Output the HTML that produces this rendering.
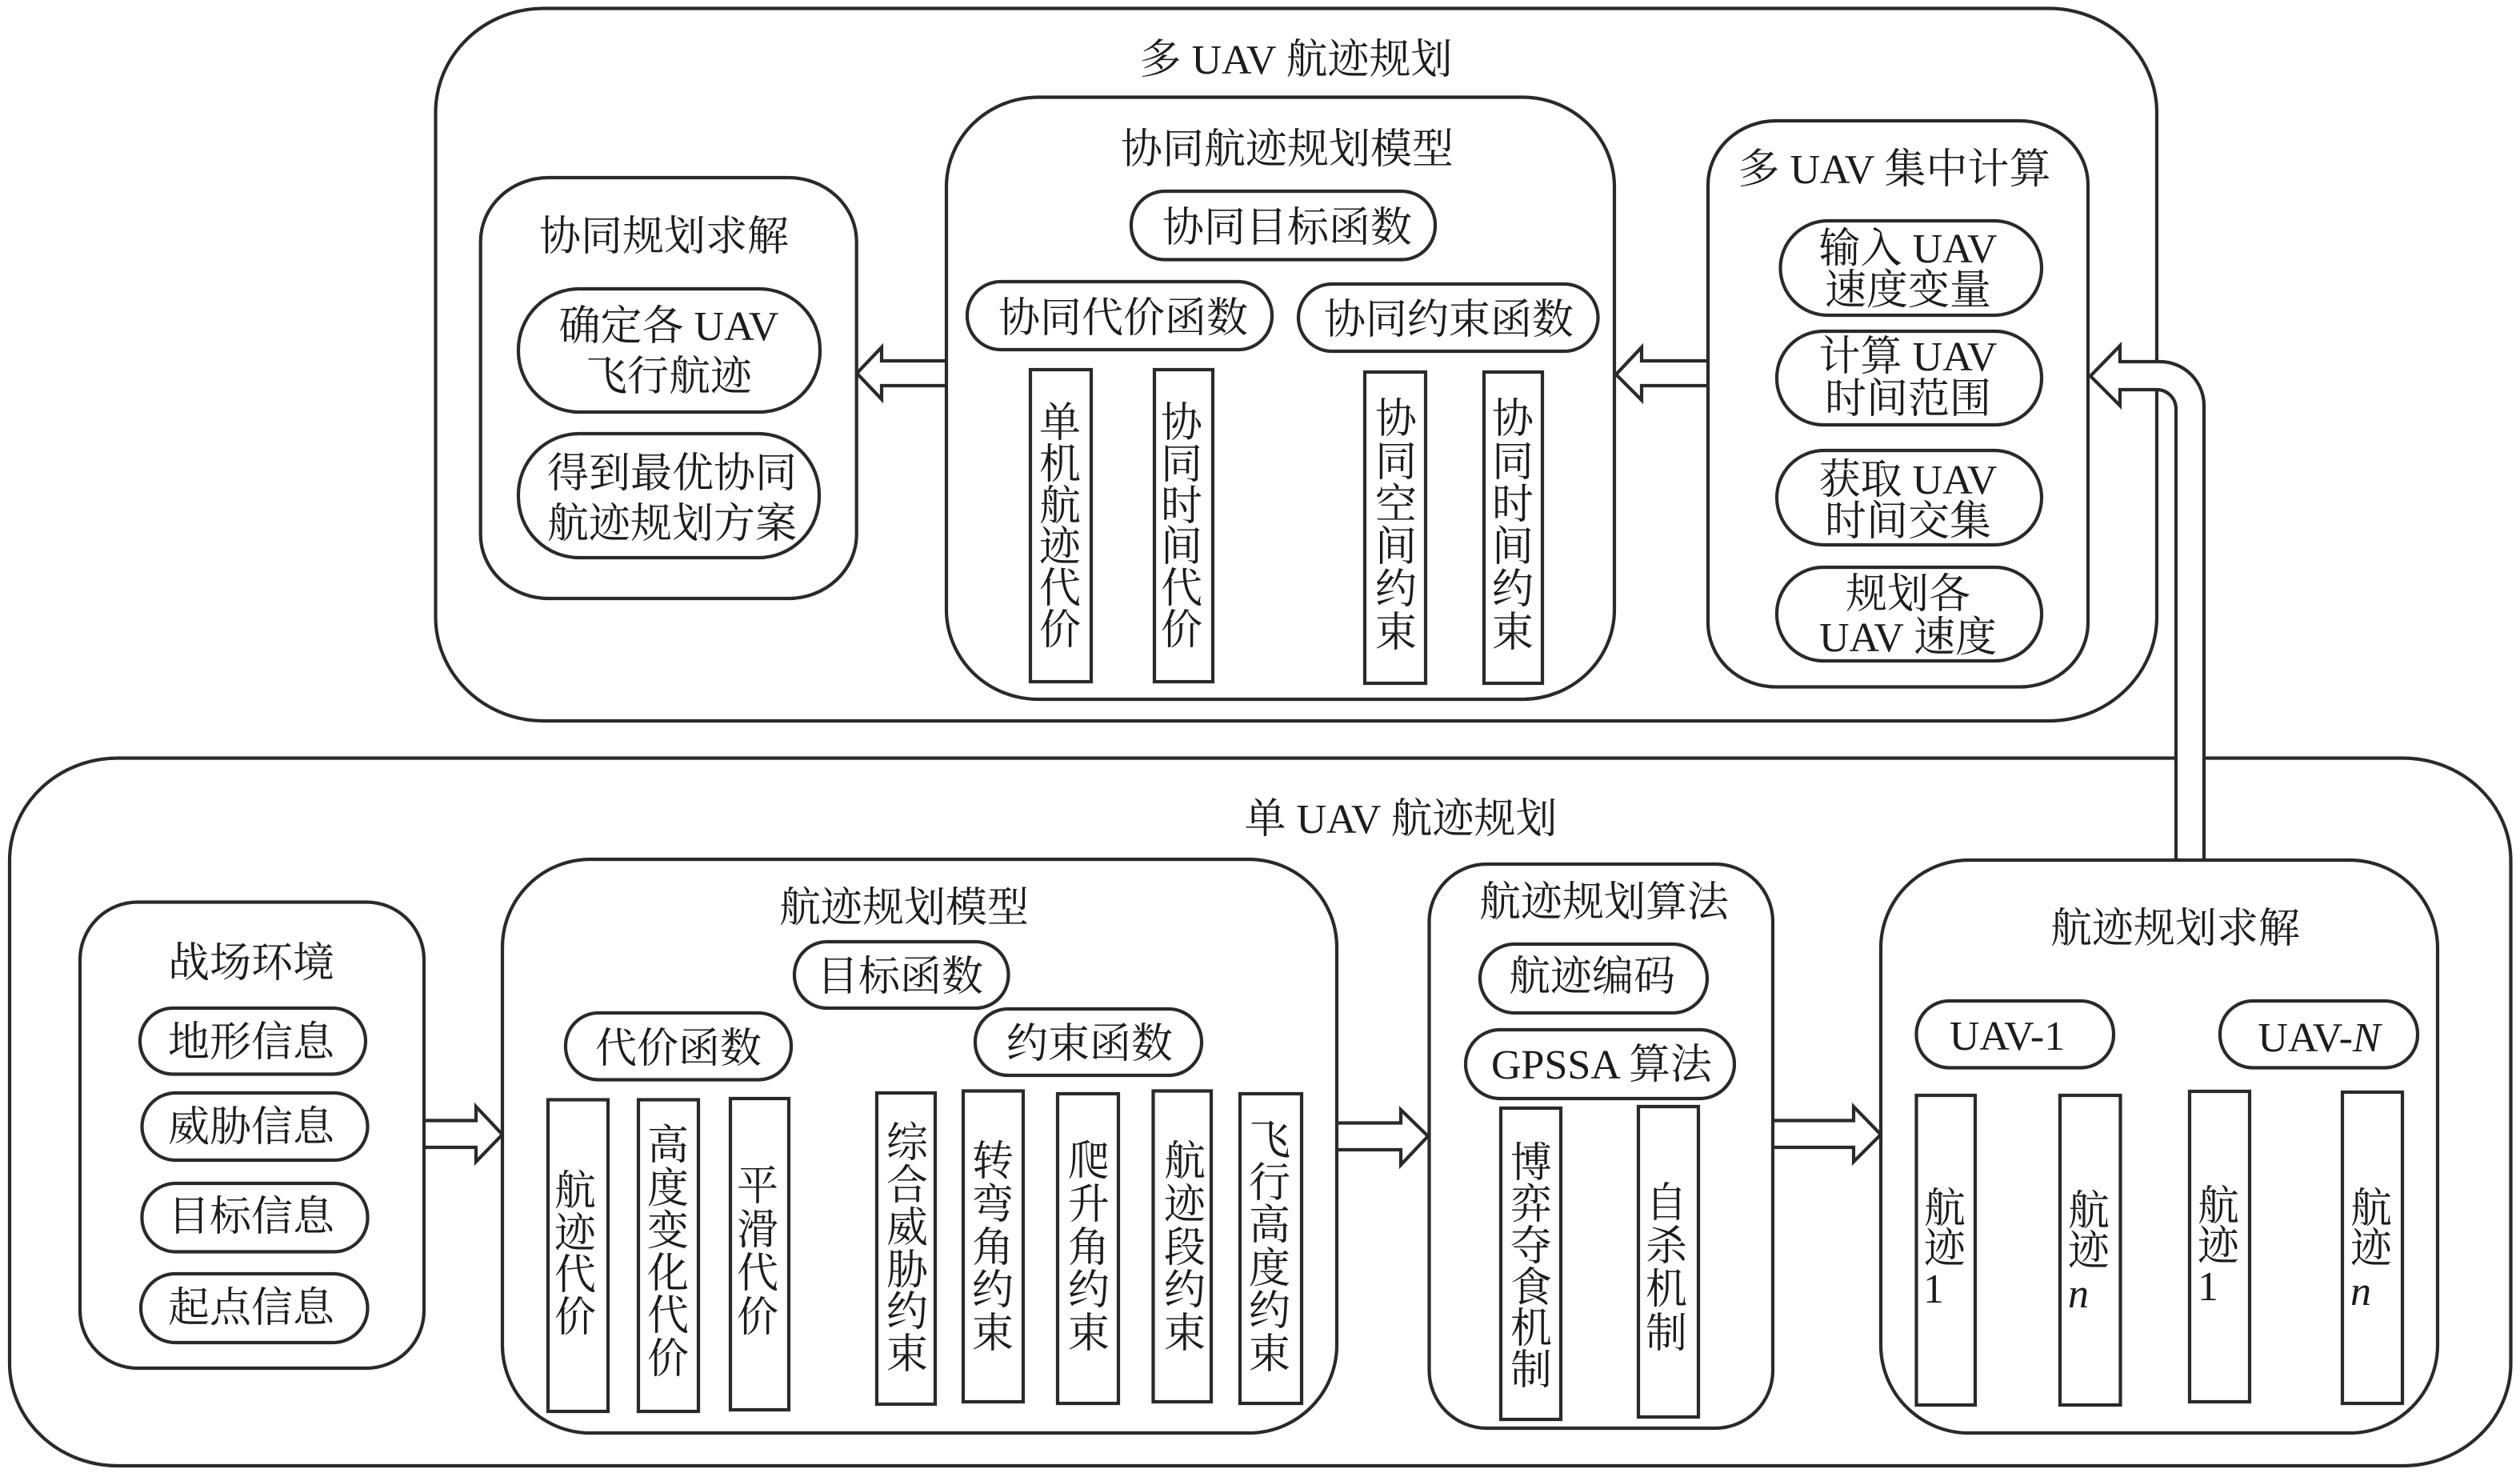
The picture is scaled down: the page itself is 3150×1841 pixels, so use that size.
<!DOCTYPE html>
<html lang="zh"><head><meta charset="utf-8"><title>UAV 航迹规划</title>
<style>
html,body{margin:0;padding:0;background:#fff}
svg{display:block}
rect,path{stroke:#2a2a2a;stroke-width:4.2;fill:#fff}
text{font-family:"Liberation Serif","Noto Serif CJK SC",serif;font-size:52px;fill:#1c1c1c;text-anchor:middle}
</style></head><body>
<svg width="3150" height="1841" viewBox="0 0 3150 1841" xmlns="http://www.w3.org/2000/svg">
<rect x="0" y="0" width="3150" height="1841" style="fill:#fff;stroke:none"/>
<!-- outer -->
<rect x="544.500" y="10.500" width="2151.500" height="890.500" rx="135" ry="130"/>
<rect x="12" y="947.500" width="3126.500" height="884.500" rx="135" ry="128"/>
<!-- arrows -->
<path d="M1183 451H1102V434L1071 466.500L1102 499V482H1183"/>
<path d="M2135 451H2052V434L2020 468L2052 500V482H2135"/>
<path d="M530 1400.500H595V1383L628 1418L595 1452V1434H530"/>
<path d="M1671 1403.500H1751V1387L1785 1420L1751 1456V1437H1671"/>
<path d="M2216 1400.500H2317V1383L2351 1418L2317 1452V1434H2216"/>
<path d="M2720 1075V511A24 24 0 0 0 2696 487H2650V507L2613 470L2650 432V452H2700A55 55 0 0 1 2755 507V1075"/>
<!-- top boxes -->
<rect x="600.700" y="222" width="470" height="526" rx="85" ry="80"/>
<rect x="1183" y="121.500" width="835" height="752.500" rx="115" ry="112"/>
<rect x="2135" y="151" width="475" height="707.500" rx="85" ry="80"/>
<!-- bottom boxes -->
<rect x="100" y="1127.500" width="430" height="582.500" rx="72" ry="72"/>
<rect x="628" y="1074" width="1043" height="717" rx="110" ry="110"/>
<rect x="1786.500" y="1080" width="429.500" height="705" rx="72" ry="72"/>
<rect x="2351" y="1075" width="696" height="716" rx="110" ry="110"/>
<!-- pills -->
<rect x="648" y="361" width="377" height="154" rx="76" ry="76"/>
<rect x="648" y="542" width="376" height="155" rx="76" ry="76"/>
<rect x="1414" y="239" width="380" height="85.500" rx="42" ry="42"/>
<rect x="1209" y="352" width="381" height="85" rx="42" ry="42"/>
<rect x="1623" y="355" width="374.500" height="84" rx="42" ry="42"/>
<rect x="2225.500" y="276" width="326.500" height="118" rx="59" ry="59"/>
<rect x="2221" y="414" width="331" height="117" rx="58" ry="58"/>
<rect x="2221" y="563" width="331" height="118" rx="59" ry="59"/>
<rect x="2221" y="709" width="331" height="117" rx="58" ry="58"/>
<rect x="175" y="1260" width="282" height="82.500" rx="41" ry="41"/>
<rect x="177.500" y="1366" width="282" height="84" rx="42" ry="42"/>
<rect x="177.500" y="1479" width="282" height="85.500" rx="42" ry="42"/>
<rect x="176" y="1592" width="283.500" height="86" rx="43" ry="43"/>
<rect x="993" y="1177" width="267.500" height="83" rx="41" ry="41"/>
<rect x="707" y="1266" width="282" height="83.500" rx="41" ry="41"/>
<rect x="1219" y="1261" width="283" height="83" rx="41" ry="41"/>
<rect x="1850" y="1180" width="284" height="86" rx="43" ry="43"/>
<rect x="1832" y="1287" width="336" height="86" rx="43" ry="43"/>
<rect x="2395.500" y="1251" width="246.500" height="83.500" rx="41" ry="41"/>
<rect x="2775" y="1251" width="247" height="83.500" rx="41" ry="41"/>
<!-- vertical rects -->
<rect x="1288" y="462" width="76" height="390"/>
<rect x="1443" y="462" width="73" height="390"/>
<rect x="1706" y="465" width="76" height="389"/>
<rect x="1855" y="465" width="73" height="389"/>
<rect x="685" y="1374.500" width="75" height="389.500"/>
<rect x="798" y="1374.500" width="75" height="389.500"/>
<rect x="913" y="1373" width="73" height="389"/>
<rect x="1096" y="1366" width="73" height="389"/>
<rect x="1204" y="1363.500" width="75" height="388.500"/>
<rect x="1322" y="1367" width="76" height="387"/>
<rect x="1441.500" y="1363.500" width="72.500" height="388.500"/>
<rect x="1550" y="1367" width="77" height="387"/>
<rect x="1876" y="1385" width="75" height="389"/>
<rect x="2048" y="1383" width="75" height="388"/>
<rect x="2395.500" y="1369" width="73.500" height="387"/>
<rect x="2575" y="1369" width="75.500" height="387"/>
<rect x="2737" y="1364" width="75" height="388"/>
<rect x="2928" y="1365" width="75" height="389"/>
<!-- titles -->
<text x="1620" y="92">多 UAV 航迹规划</text>
<text x="1751" y="1041">单 UAV 航迹规划</text>
<text x="830" y="313">协同规划求解</text>
<text x="1609" y="204">协同航迹规划模型</text>
<text x="2368" y="229">多 UAV 集中计算</text>
<text x="314" y="1221">战场环境</text>
<text x="1130" y="1152">航迹规划模型</text>
<text x="2005" y="1145">航迹规划算法</text>
<text x="2719" y="1178">航迹规划求解</text>
<!-- pill text -->
<text x="836" y="425">确定各 UAV</text>
<text x="836" y="488">飞行航迹</text>
<text x="840" y="609">得到最优协同</text>
<text x="840" y="672">航迹规划方案</text>
<text x="1609" y="302">协同目标函数</text>
<text x="1404" y="415">协同代价函数</text>
<text x="1811" y="417">协同约束函数</text>
<text x="2385" y="328">输入 UAV</text>
<text x="2385" y="380">速度变量</text>
<text x="2385" y="463">计算 UAV</text>
<text x="2385" y="516">时间范围</text>
<text x="2385" y="617">获取 UAV</text>
<text x="2385" y="669">时间交集</text>
<text x="2385" y="760">规划各</text>
<text x="2385" y="814">UAV 速度</text>
<text x="314" y="1320">地形信息</text>
<text x="314" y="1426">威胁信息</text>
<text x="314" y="1538">目标信息</text>
<text x="314" y="1652">起点信息</text>
<text x="1125" y="1238">目标函数</text>
<text x="848" y="1328">代价函数</text>
<text x="1362" y="1322">约束函数</text>
<text x="1990" y="1238">航迹编码</text>
<text x="2002" y="1348">GPSSA 算法</text>
<text x="2509" y="1312">UAV-1</text>
<text x="2899" y="1314">UAV-<tspan font-style="italic">N</tspan></text>
<!-- vertical text -->
<text><tspan x="1325" y="546">单</tspan><tspan x="1325" y="598">机</tspan><tspan x="1325" y="650">航</tspan><tspan x="1325" y="701">迹</tspan><tspan x="1325" y="753">代</tspan><tspan x="1325" y="805">价</tspan></text>
<text><tspan x="1477" y="546">协</tspan><tspan x="1477" y="598">同</tspan><tspan x="1477" y="650">时</tspan><tspan x="1477" y="701">间</tspan><tspan x="1477" y="753">代</tspan><tspan x="1477" y="805">价</tspan></text>
<text><tspan x="1745" y="541">协</tspan><tspan x="1745" y="595">同</tspan><tspan x="1745" y="648">空</tspan><tspan x="1745" y="701">间</tspan><tspan x="1745" y="754">约</tspan><tspan x="1745" y="808">束</tspan></text>
<text><tspan x="1891" y="541">协</tspan><tspan x="1891" y="595">同</tspan><tspan x="1891" y="648">时</tspan><tspan x="1891" y="701">间</tspan><tspan x="1891" y="754">约</tspan><tspan x="1891" y="808">束</tspan></text>
<text><tspan x="719" y="1506">航</tspan><tspan x="719" y="1559">迹</tspan><tspan x="719" y="1611">代</tspan><tspan x="719" y="1664">价</tspan></text>
<text><tspan x="835" y="1449">高</tspan><tspan x="835" y="1503">度</tspan><tspan x="835" y="1556">变</tspan><tspan x="835" y="1609">化</tspan><tspan x="835" y="1662">代</tspan><tspan x="835" y="1716">价</tspan></text>
<text><tspan x="947" y="1500">平</tspan><tspan x="947" y="1555">滑</tspan><tspan x="947" y="1609">代</tspan><tspan x="947" y="1664">价</tspan></text>
<text><tspan x="1134" y="1446">综</tspan><tspan x="1134" y="1499">合</tspan><tspan x="1134" y="1552">威</tspan><tspan x="1134" y="1605">胁</tspan><tspan x="1134" y="1657">约</tspan><tspan x="1134" y="1710">束</tspan></text>
<text><tspan x="1241" y="1469">转</tspan><tspan x="1241" y="1523">弯</tspan><tspan x="1241" y="1577">角</tspan><tspan x="1241" y="1630">约</tspan><tspan x="1241" y="1684">束</tspan></text>
<text><tspan x="1361" y="1469">爬</tspan><tspan x="1361" y="1523">升</tspan><tspan x="1361" y="1577">角</tspan><tspan x="1361" y="1630">约</tspan><tspan x="1361" y="1684">束</tspan></text>
<text><tspan x="1481" y="1469">航</tspan><tspan x="1481" y="1523">迹</tspan><tspan x="1481" y="1577">段</tspan><tspan x="1481" y="1630">约</tspan><tspan x="1481" y="1684">束</tspan></text>
<text><tspan x="1587" y="1443">飞</tspan><tspan x="1587" y="1496">行</tspan><tspan x="1587" y="1549">高</tspan><tspan x="1587" y="1603">度</tspan><tspan x="1587" y="1656">约</tspan><tspan x="1587" y="1710">束</tspan></text>
<text><tspan x="1914" y="1471">博</tspan><tspan x="1914" y="1523">弈</tspan><tspan x="1914" y="1575">夺</tspan><tspan x="1914" y="1627">食</tspan><tspan x="1914" y="1678">机</tspan><tspan x="1914" y="1730">制</tspan></text>
<text><tspan x="2083" y="1521">自</tspan><tspan x="2083" y="1575">杀</tspan><tspan x="2083" y="1629">机</tspan><tspan x="2083" y="1684">制</tspan></text>
<text><tspan x="2431" y="1528">航</tspan><tspan x="2431" y="1578">迹</tspan><tspan x="2417" y="1628">1</tspan></text>
<text><tspan x="2611" y="1531">航</tspan><tspan x="2611" y="1581">迹</tspan><tspan x="2598" y="1634" font-style="italic">n</tspan></text>
<text><tspan x="2773" y="1525">航</tspan><tspan x="2773" y="1575">迹</tspan><tspan x="2760" y="1625">1</tspan></text>
<text><tspan x="2964" y="1528">航</tspan><tspan x="2964" y="1578">迹</tspan><tspan x="2951" y="1631" font-style="italic">n</tspan></text>
</svg>
</body></html>
